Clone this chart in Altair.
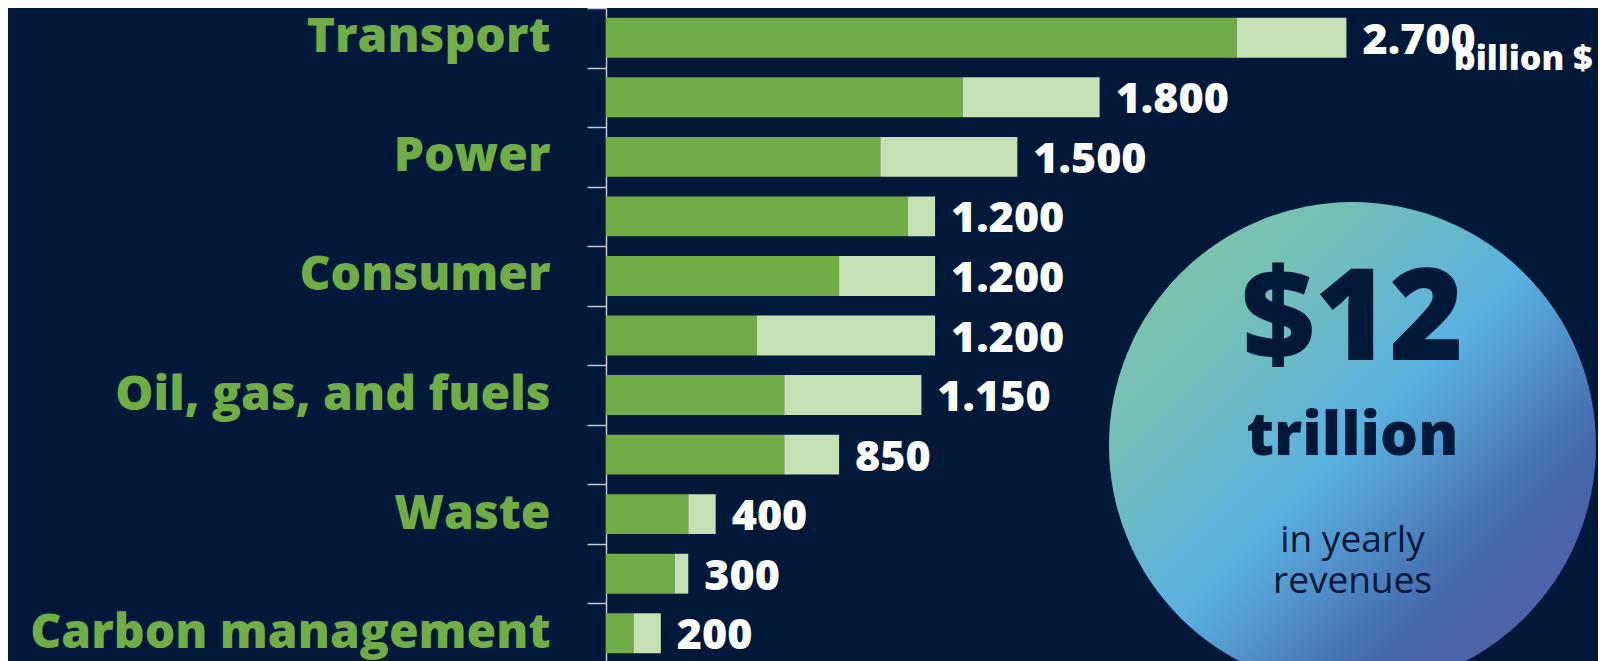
import json
import altair as alt
import pandas as pd

# ---------------- data ----------------
row_labels = ["Transport", "", "Power", "", "Consumer", "", "Oil, gas, and fuels", "", "Waste", "", "Carbon management"]
green_part = [2300, 1300, 1000, 1100, 850, 550, 650, 650, 300, 250, 100]
light_part = [400, 500, 500, 100, 350, 650, 500, 200, 100, 50, 100]
totals = [2700, 1800, 1500, 1200, 1200, 1200, 1150, 850, 400, 300, 200]
value_labels = ["2.700", "1.800", "1.500", "1.200", "1.200", "1.200", "1.150", "850", "400", "300", "200"]

unit_text = ["billion $"]
circle_lines = ["$12", "trillion", "in yearly", "revenues"]

# annotation anchors (in data units / rows)
unit_anchor_x = [3598]
circle_anchor_x = [2722]
circle_anchor_row = [7]

rows = list(range(len(row_labels)))
n = len(rows)

bars_df = pd.DataFrame({
    "row": rows * 2,
    "part": ["base"] * n + ["extra"] * n,
    "order": [0] * n + [1] * n,
    "value": green_part + light_part,
})
tot_df = pd.DataFrame({"row": rows, "total": totals, "label": value_labels})
unit_df = pd.DataFrame({"x": unit_anchor_x, "row": [0], "text": unit_text})
circle_df = pd.DataFrame({"x": circle_anchor_x, "row": circle_anchor_row})

BG = "#011839"
GREEN = "#70AD47"
LIGHT = "#C5E0B4"
AXIS = "#c3c8cf"
FONT = "Open Sans"

x_scale = alt.Scale(domain=[0, 3610], nice=False, zero=True)
y_scale = alt.Scale(paddingInner=0, paddingOuter=0)

y_axis = alt.Axis(
    title=None,
    labelExpr=json.dumps(row_labels) + "[datum.value]",
    tickBand="extent",
    tickSize=19,
    tickWidth=1.5,
    tickColor=AXIS,
    domainColor=AXIS,
    domainWidth=1.5,
    labelPadding=37,
    labelFont=FONT,
    labelFontSize=48,
    labelFontWeight=800,
    labelColor=GREEN,
    labelLimit=700,
    grid=False,
)

bars = alt.Chart(bars_df).mark_bar(height={"band": 0.67}).encode(
    x=alt.X("value:Q", stack="zero", scale=x_scale, axis=None),
    y=alt.Y("row:O", scale=y_scale, axis=y_axis),
    color=alt.Color("part:N", scale=alt.Scale(domain=["base", "extra"], range=[GREEN, LIGHT]), legend=None),
    order=alt.Order("order:Q"),
)

values = alt.Chart(tot_df).mark_text(
    align="left", baseline="middle", dx=16, dy=3, font=FONT, fontSize=43, fontWeight=800, color="white"
).encode(
    x=alt.X("total:Q", scale=x_scale, axis=None),
    y=alt.Y("row:O"),
    text="label:N",
)

unit = alt.Chart(unit_df).mark_text(
    align="right", baseline="middle", dy=22, font=FONT, fontSize=34, fontWeight=800, color="white"
).encode(
    x=alt.X("x:Q", scale=x_scale, axis=None),
    y=alt.Y("row:O"),
    text="text:N",
)

grad = alt.Gradient(
    gradient="linear",
    x1=0, y1=0, x2=1, y2=1,
    stops=[
        alt.GradientStop(offset=0.0, color="#86C79C"),
        alt.GradientStop(offset=0.25, color="#74BFB8"),
        alt.GradientStop(offset=0.5, color="#5AB0E0"),
        alt.GradientStop(offset=0.75, color="#4466AA"),
        alt.GradientStop(offset=1.0, color="#585EA8"),
    ],
)

circle = alt.Chart(circle_df).mark_point(
    shape="circle", filled=True, size=487 ** 2, opacity=1, fill=grad, strokeWidth=0, yOffset=-9
).encode(
    x=alt.X("x:Q", scale=x_scale, axis=None),
    y=alt.Y("row:O"),
)

def circle_text(line, size, weight, dy):
    df = pd.DataFrame({"x": circle_anchor_x, "row": circle_anchor_row, "text": [line]})
    return alt.Chart(df).mark_text(
        align="center", baseline="alphabetic", dy=dy, font=FONT, fontSize=size, fontWeight=weight, color=BG
    ).encode(
        x=alt.X("x:Q", scale=x_scale, axis=None),
        y=alt.Y("row:O"),
        text="text:N",
    )

t1 = circle_text(circle_lines[0], 127, 800, -95)
t2 = circle_text(circle_lines[1], 60, 800, 0)
t3 = circle_text(circle_lines[2], 37, "normal", 97)
t4 = circle_text(circle_lines[3], 37, "normal", 138)

chart = alt.layer(bars, values, circle, t1, t2, t3, t4, unit).properties(
    width=990,
    height=655,
    autosize=alt.AutoSizeParams(type="none"),
    padding={"left": 598, "top": 0, "right": 2, "bottom": 0},
).configure(background=BG).configure_view(stroke=None)

chart.save("out.html", embed_options={"renderer": "svg", "actions": False})
